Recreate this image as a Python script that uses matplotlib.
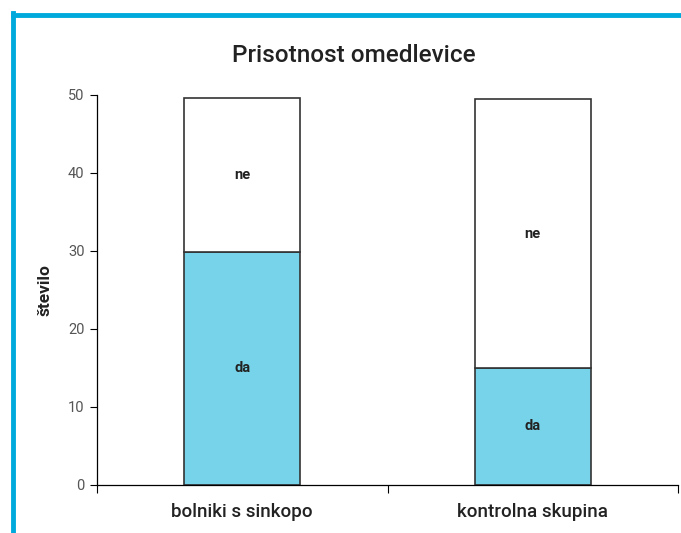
import matplotlib.pyplot as plt
from matplotlib.lines import Line2D

# data
groups = ['bolniki s sinkopo', 'kontrolna skupina']
da = [29.8, 14.9]
ne = [19.8, 34.6]
yticks = [0, 10, 20, 30, 40, 50]

plt.rcParams['font.family'] = ['Roboto', 'DejaVu Sans']

fig = plt.figure(figsize=(6.81, 5.33), dpi=100)
ax = fig.add_axes([97/681, 1-484.5/533, 581/681, (484.5-95)/533])

x = range(len(groups))
ax.bar(x, da, width=0.4, color='#76d3ea', edgecolor='#333333', lw=1.2)
ax.bar(x, ne, width=0.4, bottom=da, color='white', edgecolor='#333333', lw=1.2)
for i in x:
    ax.text(i, da[i]/2, 'da', ha='center', va='center', fontsize=10.5, weight='bold', color='#222222')
    ax.text(i, da[i] + ne[i]/2, 'ne', ha='center', va='center', fontsize=10.5, weight='bold', color='#222222')

ax.set_xlim(-0.5, 1.5)
ax.set_ylim(0, 50)
ax.set_yticks(yticks)
ax.set_xticks(list(x))
ax.set_xticklabels(groups, fontsize=13.5, weight='medium', color='#222222')
ax.set_xticks([-0.5, 0.5, 1.5], minor=True)
ax.tick_params(axis='x', which='major', length=0, pad=13)
ax.tick_params(axis='x', which='minor', length=6, width=0.8, direction='out')
ax.tick_params(axis='y', length=5, width=0.8, direction='out', labelsize=10.5, labelcolor='#555555', pad=4)
for s in ['top', 'right']:
    ax.spines[s].set_visible(False)
for s in ['left', 'bottom']:
    ax.spines[s].set_linewidth(0.9)
ax.set_ylabel('število', fontsize=12.5, weight='bold', color='#222222', labelpad=11)

fig.text(0.52, 1-55/533, 'Prisotnost omedlevice', ha='center', va='center', fontsize=17.5, weight='medium', color='#222222')

# blue frame
fig.add_artist(Line2D([12.5/681, 1], [1-15/533, 1-15/533], color='#00a9dc', lw=3.5, transform=fig.transFigure))
fig.add_artist(Line2D([12.5/681, 12.5/681], [0, 1-13/533], color='#00a9dc', lw=3.5, transform=fig.transFigure))

fig.savefig('out.png', dpi=100)
